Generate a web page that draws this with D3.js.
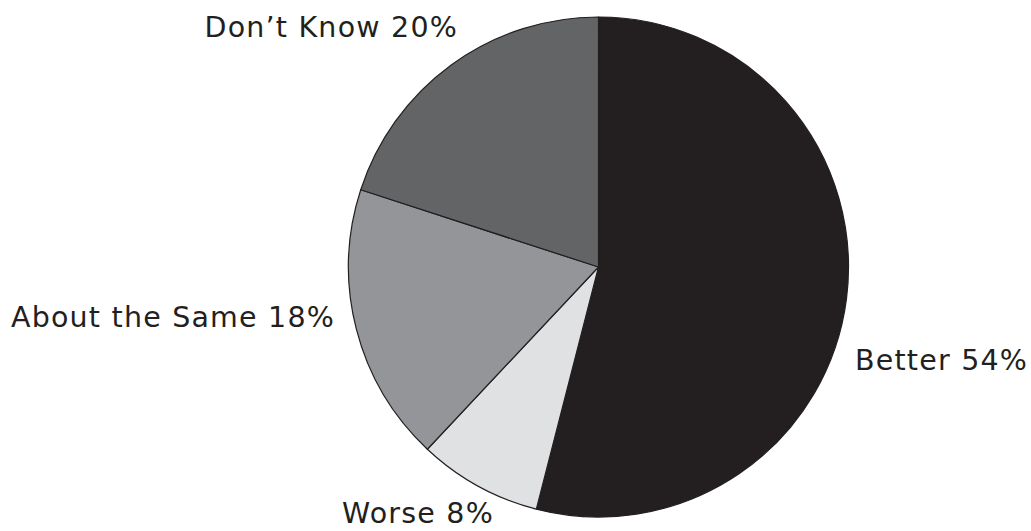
<!DOCTYPE html>
<html>
<head>
<meta charset="utf-8">
<script src="https://cdn.jsdelivr.net/npm/d3@7"></script>
<style>
  html, body { margin: 0; padding: 0; background: #fff; }
  text { font-family: "DejaVu Sans", sans-serif; fill: #231f20; }
</style>
</head>
<body>
<svg id="chart" width="1031" height="531"></svg>
<script>
const categories = ["Better", "Worse", "About the Same", "Don\u2019t Know"];
const values = [54, 8, 18, 20];
const colors = ["#231f20", "#e0e1e3", "#939598", "#636466"];

const svg = d3.select("#chart");
const cx = 598.5, cy = 267, r = 250;

const pie = d3.pie().sort(null).value(d => d.value);
const data = categories.map((c, i) => ({ name: c, value: values[i], color: colors[i] }));
const arcs = pie(data);
const arc = d3.arc().innerRadius(0).outerRadius(r);

const g = svg.append("g").attr("transform", `translate(${cx},${cy})`);
g.selectAll("path").data(arcs).enter().append("path")
  .attr("d", arc)
  .attr("fill", d => d.data.color)
  .attr("stroke", "#231f20")
  .attr("stroke-width", 1.2)
  .attr("stroke-linejoin", "round");

// label placement: [x, baseline y, anchor]
const labelPos = {
  "Better": [855, 370, "start"],
  "Worse": [342, 523, "start"],
  "About the Same": [335, 327, "end"],
  "Don\u2019t Know": [458, 37, "end"]
};
svg.selectAll("text.lbl").data(arcs).enter().append("text")
  .attr("class", "lbl")
  .attr("x", d => labelPos[d.data.name][0])
  .attr("y", d => labelPos[d.data.name][1])
  .attr("text-anchor", d => labelPos[d.data.name][2])
  .attr("font-size", 28.5)
  .attr("letter-spacing", 1.2)
  .text(d => `${d.data.name} ${d.data.value}%`);
</script>
</body>
</html>
